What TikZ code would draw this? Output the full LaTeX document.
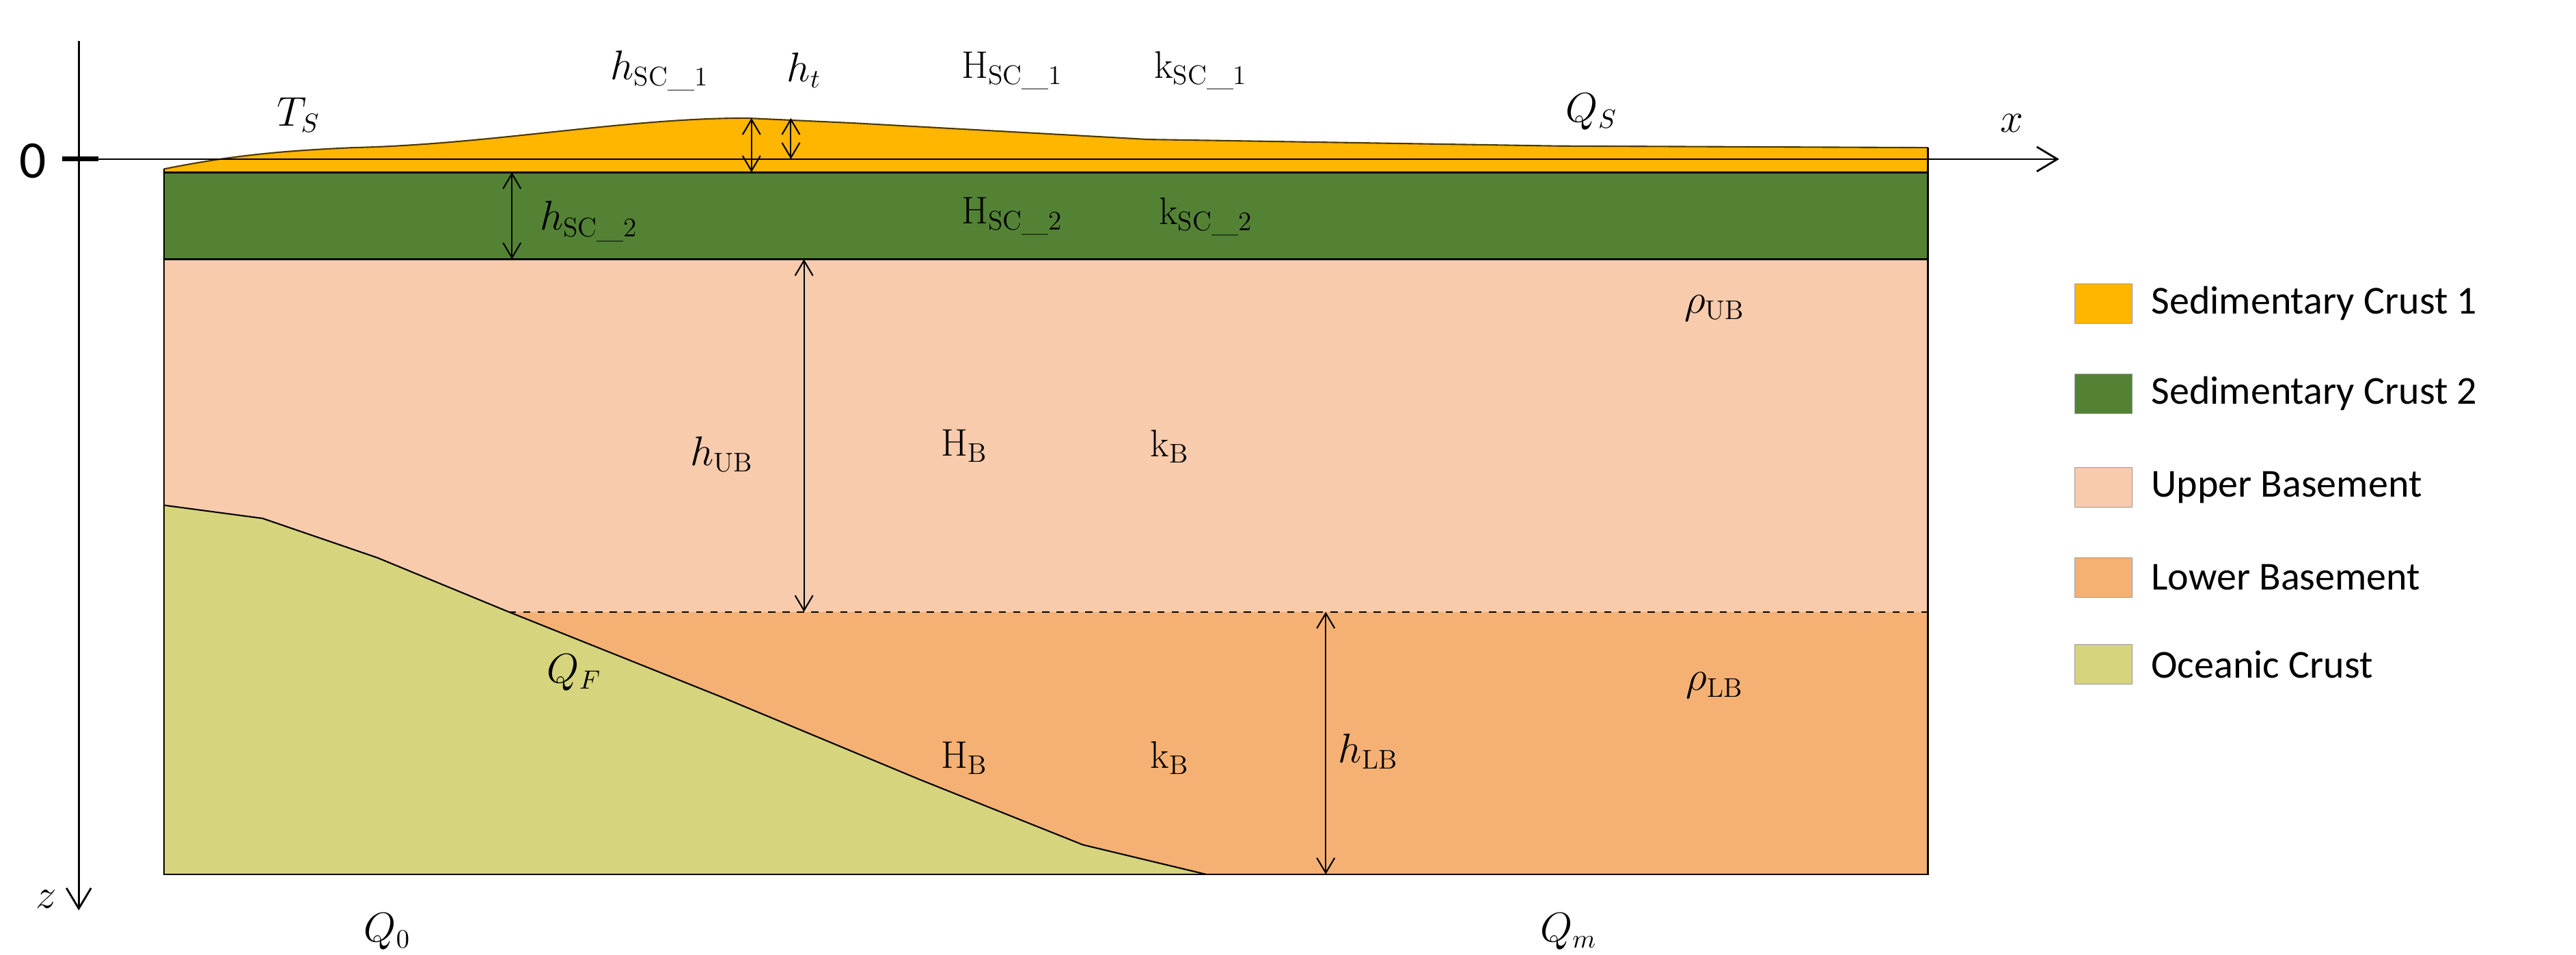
\documentclass[tikz,border=0pt]{standalone}
\usepackage{fontspec}
\newfontfamily\legfont{Carlito}
\usetikzlibrary{arrows.meta}
\definecolor{sedA}{RGB}{255,182,0}
\definecolor{sedB}{RGB}{84,130,53}
\definecolor{ubase}{RGB}{248,203,173}
\definecolor{lbase}{RGB}{244,177,115}
\definecolor{ocean}{RGB}{214,212,124}
\tikzset{
  lbl/.style={font=\fontsize{16}{18}\selectfont, inner sep=1pt},
  leg/.style={font=\legfont\fontsize{16.5}{18}\selectfont, anchor=west},
  legbox/.style={draw=black!40, line width=0.3pt, minimum width=0.84cm, minimum height=0.58cm, inner sep=0pt},
  dim/.style={{Straight Barb[length=2.2mm,width=2.6mm]}-{Straight Barb[length=2.2mm,width=2.6mm]}, line width=0.6pt},
  ax/.style={-{Straight Barb[length=3mm,width=3.6mm]}, line width=0.8pt}
}
\begin{document}
\begin{tikzpicture}[x=0.024cm,y=-0.024cm]
\useasboundingbox (0,0) rectangle (1570,582);
% layers
\fill[ubase] (100,158) rectangle (1175,373);
\fill[lbase] (100,373) rectangle (1175,533);
\fill[ocean] (100,308) -- (160,316) -- (230,340) -- (310,373) -- (440,425) -- (560,475) -- (660,515) -- (735,533) -- (100,533) -- cycle;
\draw[line width=0.6pt] (100,308) -- (160,316) -- (230,340) -- (310,373) -- (440,425) -- (560,475) -- (660,515) -- (735,533);
\draw[dashed, line width=0.6pt] (310,373) -- (1175,373);
\fill[sedB] (100,105) rectangle (1175,158);
\fill[sedA] (100,103) .. controls (140,95) and (170,92) .. (215,90) .. controls (300,88) and (380,72) .. (455,72) -- (520,75) -- (700,85) -- (950,89) -- (1175,90) -- (1175,105) -- (100,105) -- cycle;
\draw[line width=0.6pt, black!70!sedA] (100,103) .. controls (140,95) and (170,92) .. (215,90) .. controls (300,88) and (380,72) .. (455,72) -- (520,75) -- (700,85) -- (950,89) -- (1175,90);
\draw[line width=0.8pt] (100,105) -- (1175,105);
\draw[line width=0.8pt] (100,158) -- (1175,158);
\draw[line width=0.6pt] (100,103) -- (100,533) -- (1175,533) -- (1175,90);
% axes
\draw[ax] (48,25) -- (48,555);
\draw[ax] (48,97) -- (1255,97);
\draw[line width=2pt] (38,97) -- (60,97);
\node[font=\legfont\fontsize{22}{24}\selectfont] (zero) at (20,98) {0};
\node[lbl] (xl) at (1226,75) {$x$};
\node[lbl] (zl) at (28,548) {$z$};
% dimension arrows
\coordinate (a1) at (458,72); \coordinate (a2) at (458,105);
\draw[dim] (a1) -- (a2);
\coordinate (b1) at (482,72); \coordinate (b2) at (482,97);
\draw[dim] (b1) -- (b2);
\coordinate (c1) at (312,105); \coordinate (c2) at (312,158);
\draw[dim] (c1) -- (c2);
\coordinate (d1) at (490,158); \coordinate (d2) at (490,373);
\draw[dim] (d1) -- (d2);
\coordinate (e1) at (808,373); \coordinate (e2) at (808,533);
\draw[dim] (e1) -- (e2);
% labels
\node[lbl] (ts) at (182,70) {$T_S$};
\node[lbl] (hsc1) at (402,43) {$h_{\mathrm{SC\_1}}$};
\node[lbl] (ht) at (490,43) {$h_t$};
\node[lbl] (Hsc1) at (617,43) {$\mathrm{H}_{\mathrm{SC\_1}}$};
\node[lbl] (ksc1) at (732,43) {$\mathrm{k}_{\mathrm{SC\_1}}$};
\node[lbl] (qs) at (970,68) {$Q_S$};
\node[lbl] (hsc2) at (359,135) {$h_{\mathrm{SC\_2}}$};
\node[lbl] (Hsc2) at (617,132) {$\mathrm{H}_{\mathrm{SC\_2}}$};
\node[lbl] (ksc2) at (735,132) {$\mathrm{k}_{\mathrm{SC\_2}}$};
\node[lbl] (rub) at (1045,188) {$\rho_{\mathrm{UB}}$};
\node[lbl] (hub) at (440,277) {$h_{\mathrm{UB}}$};
\node[lbl] (hb1) at (588,272) {$\mathrm{H}_{\mathrm{B}}$};
\node[lbl] (kb1) at (713,272) {$\mathrm{k}_{\mathrm{B}}$};
\node[lbl] (qf) at (350,410) {$Q_F$};
\node[lbl] (rlb) at (1045,418) {$\rho_{\mathrm{LB}}$};
\node[lbl] (hb2) at (588,462) {$\mathrm{H}_{\mathrm{B}}$};
\node[lbl] (kb2) at (713,462) {$\mathrm{k}_{\mathrm{B}}$};
\node[lbl] (hlb) at (834,458) {$h_{\mathrm{LB}}$};
\node[lbl] (q0) at (236,568) {$Q_0$};
\node[lbl] (qm) at (956,568) {$Q_m$};
% legend
\node[legbox, fill=sedA] (l1) at (1282,185) {};
\node[leg] (t1) at (1306,185) {Sedimentary Crust 1};
\node[legbox, fill=sedB] (l2) at (1282,240) {};
\node[leg] (t2) at (1306,240) {Sedimentary Crust 2};
\node[legbox, fill=ubase] (l3) at (1282,297) {};
\node[leg] (t3) at (1306,297) {Upper Basement};
\node[legbox, fill=lbase] (l4) at (1282,352) {};
\node[leg] (t4) at (1306,352) {Lower Basement};
\node[legbox, fill=ocean] (l5) at (1282,405) {};
\node[leg] (t5) at (1306,405) {Oceanic Crust};
\end{tikzpicture}
\end{document}
